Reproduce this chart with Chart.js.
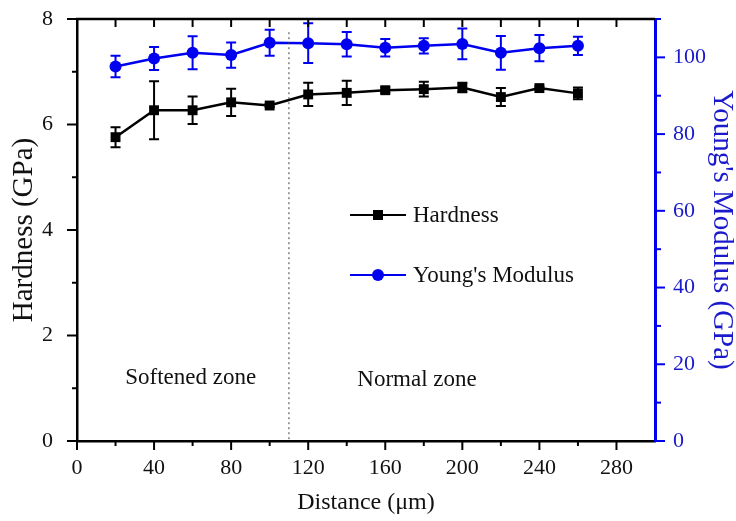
<!DOCTYPE html>
<html>
<head>
<meta charset="utf-8">
<script src="https://cdn.jsdelivr.net/npm/chart.js@4.4.1/dist/chart.umd.min.js"></script>
<style>
  html, body { margin: 0; padding: 0; background: #fff; }
  #box { width: 736px; height: 521px; }
</style>
</head>
<body>
<div id="box"><canvas id="graph"></canvas></div>
<script>
// measuring positions across the weld (um)
const distance = [20, 40, 60, 80, 100, 120, 140, 160, 180, 200, 220, 240, 260];
// hardness in GPa and its std deviation
const hardness = [5.76, 6.27, 6.27, 6.42, 6.36, 6.57, 6.60, 6.65, 6.67, 6.70, 6.52, 6.69, 6.59];
const hardnessErr = [0.19, 0.55, 0.26, 0.26, 0.03, 0.22, 0.23, 0.05, 0.14, 0.09, 0.17, 0.03, 0.11];
// young's modulus in GPa and its std deviation
const modulus = [97.6, 99.7, 101.2, 100.6, 103.8, 103.7, 103.4, 102.5, 103.0, 103.5, 101.2, 102.4, 103.0];
const modulusErr = [2.8, 3.0, 4.3, 3.3, 3.4, 5.2, 3.2, 2.3, 2.0, 4.0, 4.4, 3.4, 2.4];

// tick labels for the three axes
const xTicks = [0, 40, 80, 120, 160, 200, 240, 280];
const hardTicks = [0, 2, 4, 6, 8];
const modTicks = [0, 20, 40, 60, 80, 100];

// boundary between softened and normal zone
const zoneBorder = 110;
const zoneLabels = ["Softened zone", "Normal zone"];

const BLUE = "#0000f0";
const SERIF = "'Liberation Serif', 'DejaVu Serif', serif";

function points(xs, ys) {
    return xs.map((x, i) => ({ x: x, y: ys[i] }));
}

// fixed axis boxes so the plot frame lands where it should
function fixWidth(w) {
    return (s) => { s.width = w; s.paddingTop = 0; s.paddingBottom = 0; };
}

// vertical error bars with caps, drawn under the markers
const errorBars = {
    id: "errorBars",
    beforeDatasetsDraw(chart) {
        const ctx = chart.ctx;
        const xs = chart.scales.x;
        chart.data.datasets.forEach((ds) => {
            const ys = chart.scales[ds.yAxisID];
            ctx.save();
            ctx.strokeStyle = ds.borderColor;
            ctx.lineWidth = 2;
            ds.data.forEach((p, i) => {
                const e = ds.errors[i];
                const px = xs.getPixelForValue(p.x);
                const top = ys.getPixelForValue(p.y + e);
                const bot = ys.getPixelForValue(p.y - e);
                ctx.beginPath();
                ctx.moveTo(px, top);
                ctx.lineTo(px, bot);
                ctx.moveTo(px - 5, top);
                ctx.lineTo(px + 5, top);
                ctx.moveTo(px - 5, bot);
                ctx.lineTo(px + 5, bot);
                ctx.stroke();
            });
            ctx.restore();
        });
    }
};

// outward major/minor ticks on the axes, inward ticks on the top frame
let chartTop = 0;
function tickMarks(ctx, scale, values, len, side) {
    values.forEach((v) => {
        const p = scale.getPixelForValue(v);
        ctx.beginPath();
        if (side === "left") { ctx.moveTo(scale.right, p); ctx.lineTo(scale.right - len, p); }
        if (side === "right") { ctx.moveTo(scale.left, p); ctx.lineTo(scale.left + len, p); }
        if (side === "bottom") { ctx.moveTo(p, scale.top); ctx.lineTo(p, scale.top + len); }
        if (side === "top") { ctx.moveTo(p, chartTop); ctx.lineTo(p, chartTop + len); }
        ctx.stroke();
    });
}

const frame = {
    id: "frame",
    afterDraw(chart) {
        const ctx = chart.ctx;
        const a = chart.chartArea;
        const x = chart.scales.x, yh = chart.scales.yHard, ym = chart.scales.yMod;
        chartTop = a.top;
        ctx.save();
        // top border
        ctx.strokeStyle = "#000";
        ctx.lineWidth = 2.5;
        ctx.beginPath();
        ctx.moveTo(a.left - 1, a.top);
        ctx.lineTo(a.right, a.top);
        ctx.stroke();
        ctx.lineWidth = 2;
        const every20 = [];
        for (let v = 20; v < 300; v += 20) every20.push(v);
        tickMarks(ctx, x, every20, 8, "top");
        tickMarks(ctx, x, xTicks, 9, "bottom");
        tickMarks(ctx, x, every20.filter((v) => v % 40 !== 0), 5, "bottom");
        tickMarks(ctx, yh, hardTicks, 10, "left");
        tickMarks(ctx, yh, [1, 3, 5, 7], 5, "left");
        ctx.strokeStyle = BLUE;
        tickMarks(ctx, ym, modTicks, 10, "right");
        tickMarks(ctx, ym, [10, 30, 50, 70, 90, 110], 6, "right");

        // dotted zone boundary
        const bx = x.getPixelForValue(zoneBorder);
        ctx.strokeStyle = "#444";
        ctx.lineWidth = 1;
        ctx.setLineDash([2, 3]);
        ctx.beginPath();
        ctx.moveTo(bx, yh.getPixelForValue(7.75));
        ctx.lineTo(bx, a.bottom);
        ctx.stroke();
        ctx.setLineDash([]);

        // zone captions
        ctx.fillStyle = "#111";
        ctx.font = "23px " + SERIF;
        ctx.textAlign = "center";
        ctx.textBaseline = "middle";
        ctx.fillText(zoneLabels[0], x.getPixelForValue(59), yh.getPixelForValue(1.19));
        ctx.fillText(zoneLabels[1], x.getPixelForValue(176.5), yh.getPixelForValue(1.16));

        // legend
        const rows = [
            { label: "Hardness", color: "#000", shape: "rect", y: 215 },
            { label: "Young's Modulus", color: BLUE, shape: "circle", y: 275 }
        ];
        ctx.textAlign = "left";
        rows.forEach((r) => {
            ctx.strokeStyle = r.color;
            ctx.fillStyle = r.color;
            ctx.lineWidth = 2;
            ctx.beginPath();
            ctx.moveTo(350, r.y);
            ctx.lineTo(406, r.y);
            ctx.stroke();
            if (r.shape === "rect") {
                ctx.fillRect(373, r.y - 5, 10, 10);
            } else {
                ctx.beginPath();
                ctx.arc(378, r.y, 6, 0, Math.PI * 2);
                ctx.fill();
            }
            ctx.fillStyle = "#111";
            ctx.fillText(r.label, 413, r.y + 1);
        });
        ctx.restore();
    }
};

const ctx = document.getElementById("graph").getContext("2d");
new Chart(ctx, {
    type: "line",
    data: {
        datasets: [
            {
                label: "Hardness",
                data: points(distance, hardness),
                errors: hardnessErr,
                yAxisID: "yHard",
                borderColor: "#000",
                backgroundColor: "#000",
                borderWidth: 2.5,
                pointStyle: "rect",
                pointRadius: 7,
                pointBorderWidth: 0,
                tension: 0
            },
            {
                label: "Young's Modulus",
                data: points(distance, modulus),
                errors: modulusErr,
                yAxisID: "yMod",
                borderColor: BLUE,
                backgroundColor: BLUE,
                borderWidth: 2.5,
                pointStyle: "circle",
                pointRadius: 6,
                pointBorderWidth: 0,
                tension: 0
            }
        ]
    },
    options: {
        responsive: true,
        maintainAspectRatio: false,
        animation: false,
        layout: { autoPadding: false, padding: { top: 19, left: 0, right: 0, bottom: 0 } },
        plugins: { legend: { display: false }, tooltip: { enabled: false } },
        scales: {
            x: {
                type: "linear",
                min: 0,
                max: 300,
                afterBuildTicks: (s) => { s.ticks = xTicks.map((v) => ({ value: v })); },
                afterFit: (s) => { s.height = 80; s.paddingLeft = 0; s.paddingRight = 0; },
                grid: { drawOnChartArea: false, drawTicks: false },
                border: { color: "#000", width: 2.5 },
                ticks: { color: "#111", font: { family: SERIF, size: 22 }, padding: 14, maxRotation: 0 },
                title: {
                    display: true,
                    text: "Distance (\u03bcm)",
                    color: "#111",
                    font: { family: SERIF, size: 24, lineHeight: 1 },
                    padding: { top: 0, bottom: 6 }
                }
            },
            yHard: {
                type: "linear",
                position: "left",
                min: 0,
                max: 8,
                afterBuildTicks: (s) => { s.ticks = hardTicks.map((v) => ({ value: v })); },
                afterFit: fixWidth(77),
                grid: { drawOnChartArea: false, drawTicks: false },
                border: { color: "#000", width: 2.5 },
                ticks: { color: "#111", font: { family: SERIF, size: 22 }, padding: 24 },
                title: {
                    display: true,
                    text: "Hardness (GPa)",
                    color: "#111",
                    font: { family: SERIF, size: 29, lineHeight: 1 },
                    padding: { top: 10, bottom: 0 }
                }
            },
            yMod: {
                type: "linear",
                position: "right",
                min: 0,
                max: 110,
                afterBuildTicks: (s) => { s.ticks = modTicks.map((v) => ({ value: v })); },
                afterFit: fixWidth(81),
                grid: { drawOnChartArea: false, drawTicks: false },
                border: { color: BLUE, width: 3 },
                ticks: { color: "#1a1acc", font: { family: SERIF, size: 22 }, padding: 18 },
                title: {
                    display: true,
                    text: "Young's Modulus (GPa)",
                    color: "#1a1acc",
                    font: { family: SERIF, size: 29, lineHeight: 1 },
                    padding: { top: 0, bottom: 0 }
                }
            }
        }
    },
    plugins: [errorBars, frame]
});
</script>
</body>
</html>
